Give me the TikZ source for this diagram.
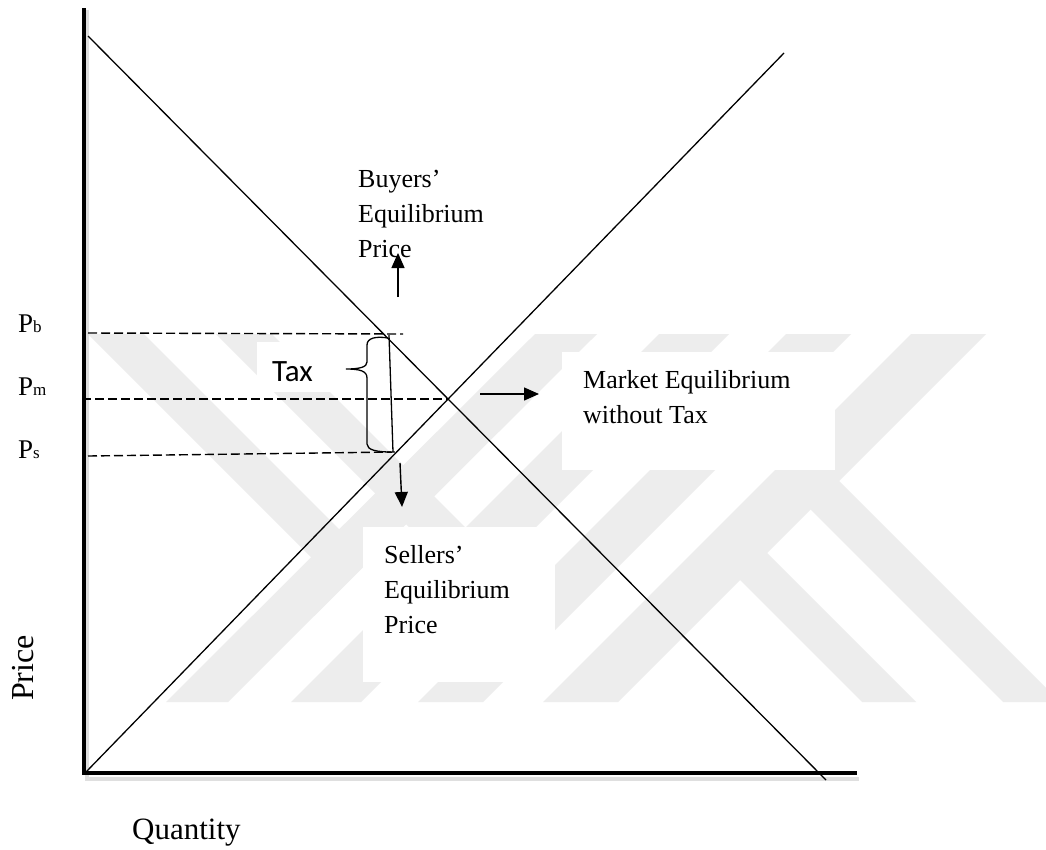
\documentclass[tikz,border=0pt]{standalone}
\usepackage{fontspec}
\setmainfont{Liberation Serif}
\newfontfamily\taxfont{Carlito}
\usetikzlibrary{arrows.meta}
\begin{document}
\begin{tikzpicture}[x=1pt,y=-1pt,
  thinline/.style={line width=1.3pt},
  axisline/.style={line width=4.6pt},
  dashline/.style={line width=1.4pt,dash pattern=on 9pt off 4pt},
  pointer/.style={line width=1.4pt,-{Triangle[length=15pt,width=13pt]}},
  lbl/.style={font=\fontsize{26}{35}\selectfont,align=left,inner sep=0pt,anchor=base west},
  plbl/.style={font=\fontsize{27}{27}\selectfont,inner sep=0pt,anchor=base west},
  wmark/.style={fill=black!7,draw=none}]
\useasboundingbox (0,0) rectangle (1046,849);
\fill[white] (0,0) rectangle (1046,849);

% faint watermark (diagonal bands)
\begin{scope}
\clip (86,334) rectangle (1046,702);
% long "/" strokes
\fill[wmark] (535,334) -- (597,334) -- (228,702) -- (166,702) -- cycle;
\fill[wmark] (659,334) -- (729,334) -- (361,702) -- (291,702) -- cycle;
\fill[wmark] (786,334) -- (851,334) -- (483,702) -- (418,702) -- cycle;
\fill[wmark] (911,334) -- (986,334) -- (618,702) -- (543,702) -- cycle;
% "\" strokes from the top, ending at the "/" strokes
\fill[wmark] (88,334) -- (144,334) -- (354.5,544.5) -- (326.5,572.5) -- cycle;
\fill[wmark] (216,334) -- (272,334) -- (483,545) -- (455,573) -- cycle;
% "\" strokes to the bottom on the right
\fill[wmark] (751.5,537.5) -- (916,702) -- (862,702) -- (724.5,564.5) -- cycle;
\fill[wmark] (823.5,465.5) -- (1060,702) -- (1003,702) -- (795,494) -- cycle;
\end{scope}

% white text boxes
\fill[white] (562,352) rectangle (835,470);
\fill[white] (363,527) rectangle (555,682);
\fill[white] (257,342) rectangle (345,392);

% axes
\coordinate (ytop) at (84,8);
\coordinate (O) at (84,775);
\coordinate (xend) at (857,773);
\draw[gray!25,line width=4pt] (86.5,10) -- (86.5,779) -- (859,779);
\draw[axisline] (ytop) -- (84,773) -- (xend);

% demand and supply
\coordinate (d1) at (88,36);
\coordinate (d2) at (826,780);
\coordinate (s1) at (86,772);
\coordinate (s2) at (784,53);
\draw[thinline] (d1) -- (d2);
\draw[thinline] (s1) -- (s2);

% dashed price lines
\coordinate (pbL) at (88,333);
\coordinate (pbR) at (403,334);
\coordinate (pmL) at (82,399);
\coordinate (pmR) at (448,399);
\coordinate (psL) at (88,456);
\coordinate (psR) at (395,452);
\draw[dashline] (pbL) -- (pbR);
\draw[dashline] (pmL) -- (pmR);
\draw[dashline] (psL) -- (psR);

% tax segment
\coordinate (tb) at (389,335);
\coordinate (ts) at (393,452);
\draw[thinline] (tb) -- (ts);

% brace
\draw[line width=1.3pt] (388,338) .. controls (376,336) and (367,338) .. (367,345)
  -- (367,362) .. controls (367,367) and (360,369) .. (346,369)
  .. controls (360,369) and (367,371) .. (367,378)
  -- (367,444) .. controls (367,450) and (377,452) .. (391,452);

% labels on axis
\node[plbl] (Pb) at (18,332) {P{\fontsize{17}{17}\selectfont b}};
\node[plbl] (Pm) at (18,395) {P{\fontsize{17}{17}\selectfont m}};
\node[plbl] (Ps) at (18,458) {P{\fontsize{17}{17}\selectfont s}};

\node[font=\fontsize{32}{32}\selectfont,rotate=90,anchor=base,inner sep=0pt] (price) at (33,668) {Price};
\node[font=\fontsize{31}{31}\selectfont,anchor=base west,inner sep=0pt] (qty) at (132,839) {Quantity};

\node[font=\taxfont\fontsize{31}{31}\selectfont,anchor=base west,inner sep=0pt] (tax) at (272,381) {Tax};

% text blocks (anchor at baseline of last line)
\node[lbl] (buyers) at (358,257) {Buyers’\\Equilibrium\\Price};
\node[lbl] (sellers) at (384,633) {Sellers’\\Equilibrium\\Price};
\node[lbl] (market) at (583,423) {Market Equilibrium\\without Tax};

% pointers
\coordinate (upS) at (398,297);
\coordinate (upE) at (398,253);
\coordinate (dnS) at (400,463);
\coordinate (dnE) at (402,507);
\coordinate (rtS) at (480,394);
\coordinate (rtE) at (539,394);
\draw[pointer] (upS) -- (upE);
\draw[pointer] (dnS) -- (dnE);
\draw[pointer] (rtS) -- (rtE);
\end{tikzpicture}
\end{document}
